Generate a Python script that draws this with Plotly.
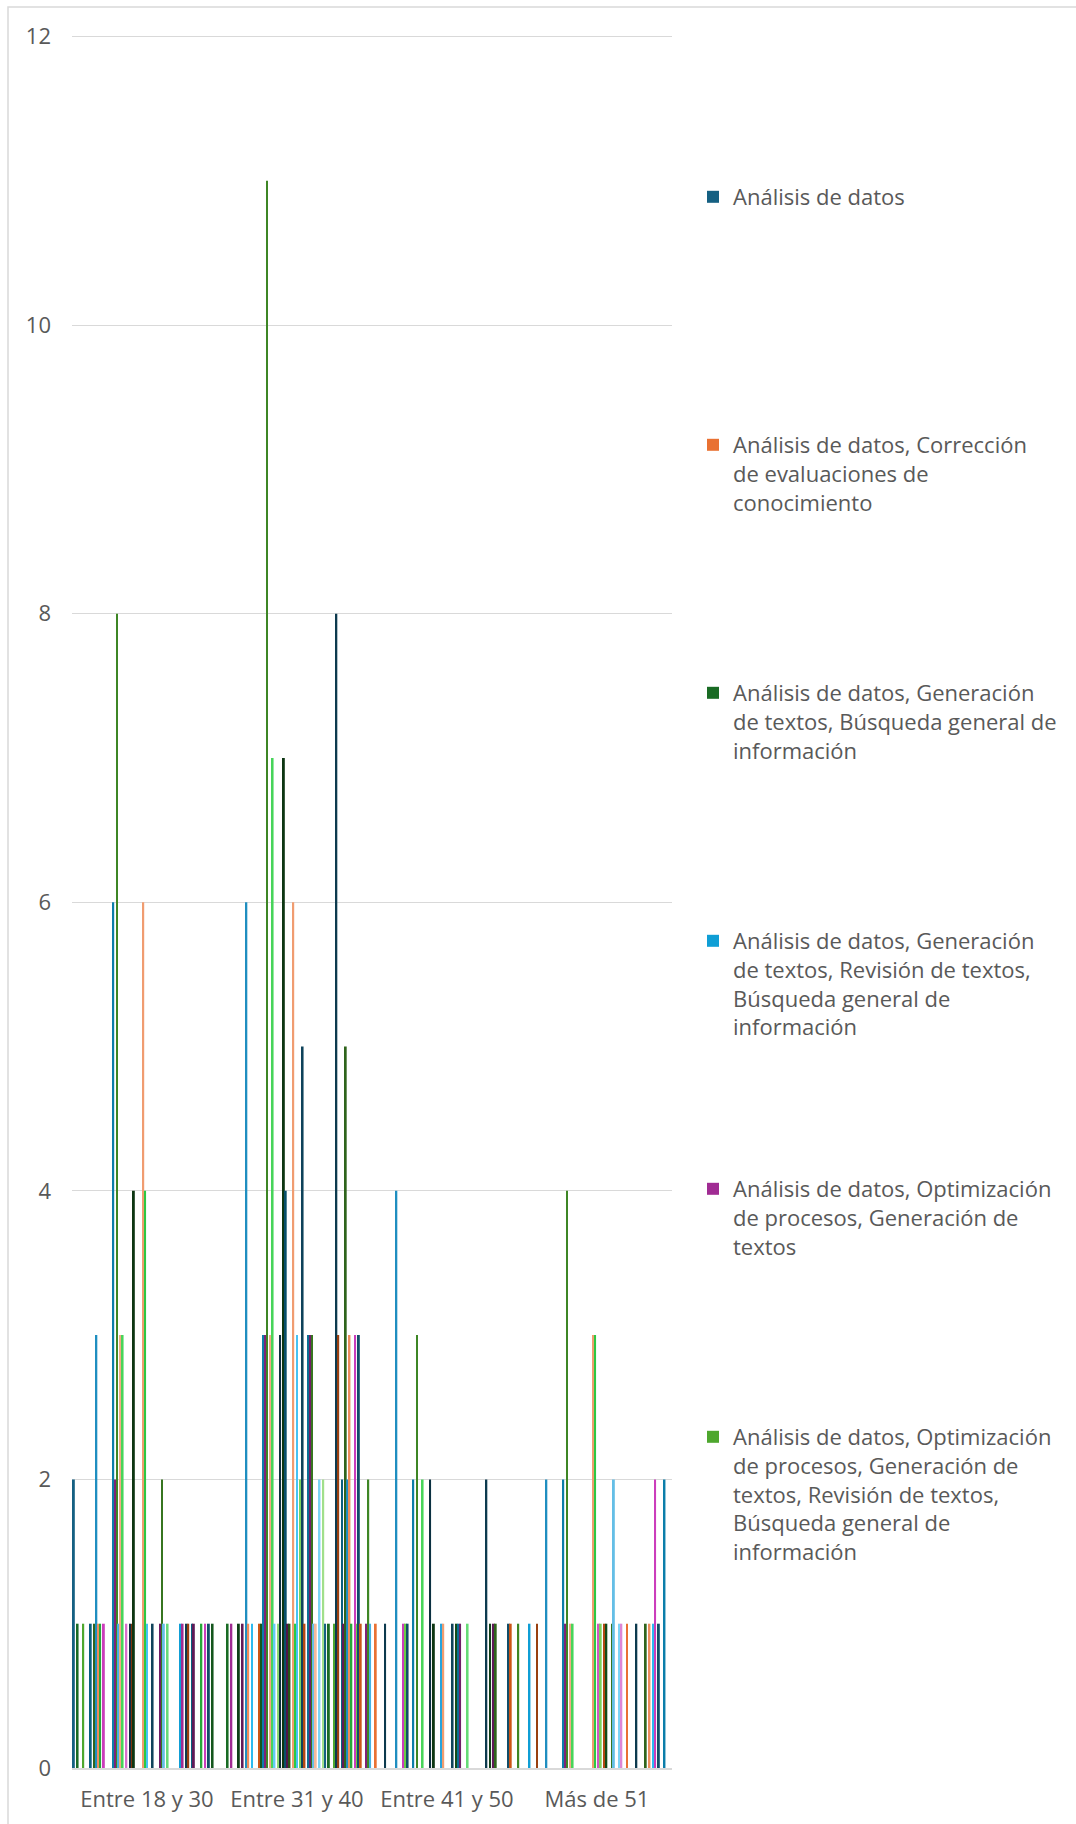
import colorsys
import plotly.graph_objects as go

categories = ["Entre 18 y 30", "Entre 31 y 40", "Entre 41 y 50", "Más de 51"]

legend_names = [
    "Análisis de datos",
    "Análisis de datos, Corrección<br>de evaluaciones de<br>conocimiento",
    "Análisis de datos, Generación<br>de textos, Búsqueda general de<br>información",
    "Análisis de datos, Generación<br>de textos, Revisión de textos,<br>Búsqueda general de<br>información",
    "Análisis de datos, Optimización<br>de procesos, Generación de<br>textos",
    "Análisis de datos, Optimización<br>de procesos, Generación de<br>textos, Revisión de textos,<br>Búsqueda general de<br>información",
]

N_SERIES = 79

# values per age group, one entry per series (series order = legend order)
entre_18_30 = [0] * N_SERIES
entre_31_40 = [0] * N_SERIES
entre_41_50 = [0] * N_SERIES
mas_51 = [0] * N_SERIES

vals_18_30 = {0: 2, 2: 1, 5: 1, 9: 1, 11: 1, 12: 3, 13: 1, 14: 1, 16: 1, 21: 6, 22: 2, 23: 8,
              24: 1, 25: 3, 26: 3, 28: 1, 30: 1, 31: 1, 32: 4, 37: 6, 38: 4, 39: 1, 42: 1,
              46: 1, 47: 2, 48: 1, 50: 1, 57: 1, 58: 1, 60: 1, 61: 1, 63: 1, 64: 1, 68: 1,
              70: 1, 72: 1, 74: 1}
vals_31_40 = {2: 1, 4: 1, 8: 1, 10: 1, 12: 6, 13: 1, 15: 1, 19: 1, 20: 1, 21: 3, 22: 3,
              23: 11, 25: 3, 26: 7, 27: 1, 29: 1, 30: 3, 32: 7, 33: 4, 34: 1, 35: 1, 37: 6,
              38: 1, 39: 3, 41: 2, 42: 5, 43: 1, 45: 3, 46: 3, 47: 3, 48: 1, 49: 1, 51: 2,
              53: 2, 54: 1, 56: 1, 59: 1, 60: 8, 61: 3, 63: 2, 64: 1, 65: 5, 66: 2, 67: 3,
              68: 1, 70: 3, 71: 1, 72: 3, 73: 1, 76: 1, 77: 2, 78: 1}
vals_41_50 = {1: 1, 6: 1, 12: 4, 16: 1, 17: 1, 18: 1, 21: 2, 23: 3, 26: 2, 30: 2, 32: 1,
              36: 1, 37: 1, 42: 1, 44: 1, 45: 1, 46: 1, 50: 1, 60: 2, 62: 1, 64: 1, 65: 1,
              72: 1, 73: 1, 77: 1}
vals_mas_51 = {3: 1, 7: 1, 12: 2, 21: 2, 22: 1, 23: 4, 25: 1, 26: 1, 37: 3, 38: 3, 40: 1,
               41: 1, 43: 1, 44: 1, 47: 1, 48: 2, 51: 1, 52: 1, 55: 1, 60: 1, 65: 1, 67: 1,
               69: 1, 70: 2, 72: 1, 75: 2}
for k, v in vals_18_30.items():
    entre_18_30[k] = v
for k, v in vals_31_40.items():
    entre_31_40[k] = v
for k, v in vals_41_50.items():
    entre_41_50[k] = v
for k, v in vals_mas_51.items():
    mas_51[k] = v

series_names = legend_names + [f"Combinación {i + 1}" for i in range(6, N_SERIES)]

# Office theme colour cycle
accents = ["#156082", "#E97132", "#196B24", "#0F9ED5", "#A02B93", "#4EA72E"]
mods = [(1, 0), (0.6, 0), (0.8, 0.2), (0.8, 0), (0.6, 0.4), (0.5, 0), (0.7, 0.3), (0.7, 0), (0.5, 0.5)]


def tone(hexc, mod, off):
    r, g, b = [int(hexc[i:i + 2], 16) / 255 for i in (1, 3, 5)]
    h, l, s = colorsys.rgb_to_hls(r, g, b)
    l = min(1.0, l * mod + off)
    r, g, b = colorsys.hls_to_rgb(h, l, s)
    return "#%02x%02x%02x" % tuple(int(round(v * 255)) for v in (r, g, b))


colors = [tone(accents[i % 6], *mods[(i // 6) % 9]) for i in range(N_SERIES)]

FONT = "Open Sans"
TXT = "#595959"

W, H = 1076, 1824
ML, MR, MT, MB = 72, 404, 35, 56
PW = W - ML - MR
PH = H - MT - MB

fig = go.Figure()
for i in range(N_SERIES):
    kw = {}
    if i < 6:
        kw["legend"] = "legend" if i == 0 else f"legend{i + 1}"
    fig.add_trace(go.Bar(
        x=categories,
        y=[entre_18_30[i], entre_31_40[i], entre_41_50[i], mas_51[i]],
        name=series_names[i],
        marker=dict(color=colors[i], line=dict(width=0)),
        showlegend=(i < 6),
        **kw,
    ))


def px2x(px):
    return (px - ML) / PW


def py2y(py):
    return (H - MB - py) / PH


legend_tops = [176, 424, 672, 920, 1168, 1416]
layout_legends = {}
for i, top in enumerate(legend_tops):
    key = "legend" if i == 0 else f"legend{i + 1}"
    layout_legends[key] = dict(
        x=px2x(693), xanchor="left", y=py2y(top), yanchor="top",
        font=dict(family=FONT, size=22, color=TXT),
        bgcolor="rgba(0,0,0,0)", valign="top", itemwidth=30,
    )

fig.update_layout(
    width=W, height=H, autosize=False,
    margin=dict(l=ML, r=MR, t=MT, b=MB),
    paper_bgcolor="white", plot_bgcolor="white",
    barmode="group", bargap=0.0125, bargroupgap=0,
    font=dict(family=FONT, size=22, color=TXT),
    xaxis=dict(
        showgrid=False, showline=True, linecolor="#d9d9d9", linewidth=2,
        ticks="", tickfont=dict(family=FONT, size=22, color=TXT),
        ticklabelstandoff=11,
    ),
    yaxis=dict(
        range=[0, 12.01], tickvals=[0, 2, 4, 6, 8, 10, 12], showgrid=True,
        gridcolor="#d9d9d9", gridwidth=1,
        zeroline=False, showline=False, ticks="",
        tickfont=dict(family=FONT, size=22, color=TXT),
        ticklabelstandoff=20,
    ),
    shapes=[dict(
        type="rect", xref="paper", yref="paper",
        x0=px2x(8), x1=px2x(1090), y0=py2y(1840), y1=py2y(7),
        line=dict(color="#d9d9d9", width=1.5), fillcolor="rgba(0,0,0,0)", layer="below",
    )],
    **layout_legends,
)

fig.write_html(
    "out.html",
    config={"displayModeBar": False},
    post_script="document.body.style.margin='0';document.body.style.padding='0';",
)
